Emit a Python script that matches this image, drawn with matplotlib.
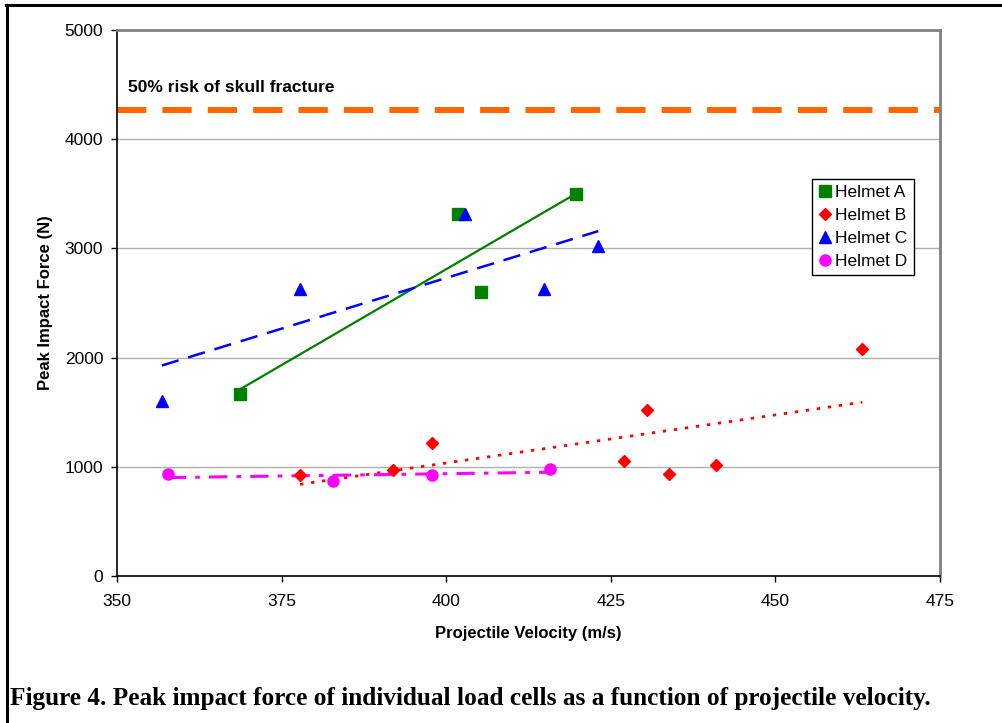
import numpy as np
import matplotlib
matplotlib.use("Agg")
import matplotlib.pyplot as plt
from matplotlib.lines import Line2D

plt.rcParams['font.family'] = ['Liberation Sans', 'DejaVu Sans']

# data
a_vel = [368.7, 401.8, 405.3, 419.7]
a_force = [1667, 3315, 2601, 3498]

b_vel = [377.8, 391.9, 397.8, 427.0, 430.5, 433.8, 441.0, 463.2]
b_force = [925, 971, 1218, 1053, 1520, 934, 1016, 2079]

c_vel = [356.8, 377.8, 402.9, 414.9, 423.1]
c_force = [1600, 2628, 3315, 2628, 3022]

d_vel = [357.7, 382.8, 397.8, 415.8]
d_force = [934, 870, 925, 980]

risk_level = 4265
risk_label = "50% risk of skull fracture"

xticks = [350, 375, 400, 425, 450, 475]
yticks = [0, 1000, 2000, 3000, 4000, 5000]

fig = plt.figure(figsize=(10.03, 7.23), dpi=100)
ax = fig.add_axes([0.1167, 0.2033, 0.8205, 0.7552])

# horizontal grid
for yv in yticks[1:]:
    ax.axhline(yv, color='#b0b0b0', lw=1.0, zorder=0)

# 50% risk line
ax.axhline(risk_level, color='#ff6600', lw=4.3, dashes=(4.9, 2.7), zorder=1)
ax.text(351.7, 4470, risk_label, fontsize=12.5, fontweight='bold', va='center')


def trend(x, y, **kw):
    x = np.array(x)
    p = np.polyfit(x, y, 1)
    xs = np.array([x.min(), x.max()])
    ax.plot(xs, np.polyval(p, xs), zorder=2, **kw)


trend(a_vel, a_force, color='#008000', lw=1.6)
trend(b_vel, b_force, color='#ff0000', lw=2.0, dashes=(1.2, 2.8))
trend(c_vel, c_force, color='#0000ff', lw=1.8, dashes=(7, 4))
trend(d_vel, d_force, color='#ff00ff', lw=2.2, dashes=(6, 3, 1.5, 3))

ax.plot(a_vel, a_force, 's', color='#008000', ms=8, ls='none', zorder=3, label='Helmet A')
ax.plot(b_vel, b_force, 'D', color='#ff0000', ms=6.5, ls='none', zorder=3, label='Helmet B')
ax.plot(c_vel, c_force, '^', color='#0000ff', ms=9, ls='none', zorder=3, label='Helmet C')
ax.plot(d_vel, d_force, 'o', color='#ff00ff', ms=8, ls='none', zorder=3, label='Helmet D')

ax.set_xlim(350, 475)
ax.set_ylim(0, 5000)
ax.set_xticks(xticks)
ax.set_yticks(yticks)
ax.tick_params(direction='out', length=4, width=1, labelsize=12.5, pad=6)
ax.tick_params(axis='x', pad=9)

for side in ['top', 'right']:
    ax.spines[side].set_color('#808080')
    ax.spines[side].set_linewidth(2)
for side in ['left', 'bottom']:
    ax.spines[side].set_color('black')
    ax.spines[side].set_linewidth(1.2)

ax.set_xlabel("Projectile Velocity (m/s)", fontsize=12, fontweight='bold', labelpad=12)
ax.set_ylabel("Peak Impact Force (N)", fontsize=12, fontweight='bold', labelpad=8)

leg = ax.legend(loc='upper left', bbox_to_anchor=(0.8445, 0.728), fontsize=12.5,
                handlelength=0.8, handletextpad=0.2, borderpad=0.35, labelspacing=0.45,
                fancybox=False, framealpha=1, edgecolor='black', borderaxespad=0)
leg.get_frame().set_linewidth(1.0)

fig.text(0.010, 0.025, "Figure 4. Peak impact force of individual load cells as a function of projectile velocity.",
         fontsize=18.2, fontweight='bold', family=['Liberation Serif', 'DejaVu Serif'], va='baseline')

# page frame lines (top and left)
fig.add_artist(Line2D([0.006, 1.0], [0.9935, 0.9935], color='black', lw=2.2, transform=fig.transFigure))
fig.add_artist(Line2D([0.007, 0.007], [0.0, 0.9935], color='black', lw=2.2, transform=fig.transFigure))

fig.savefig("out.png", dpi=100)
